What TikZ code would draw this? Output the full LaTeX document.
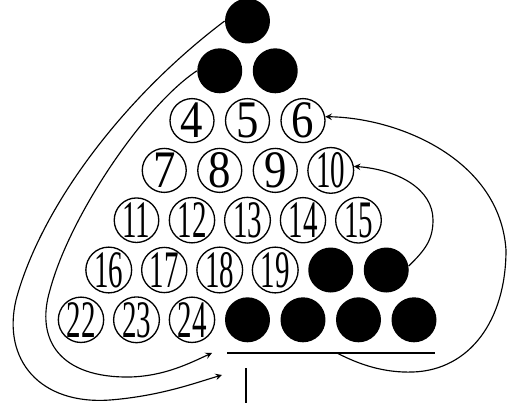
\documentclass[tikz,border=0pt]{standalone}
\usepackage{fontspec}
\setmainfont{Liberation Serif}
\usepackage{graphicx}
\usepackage{tikz}
\tikzset{
  seat/.style={circle, draw, line width=0.75pt, minimum size=0.88cm, inner sep=0pt, font=\fontsize{30}{30}\selectfont},
  ball/.style={circle, fill=black, minimum size=0.9cm, inner sep=0pt},
  jump/.style={->, line width=0.65pt}
}
\newcommand{\seatlabel}[1]{\ifnum#1>9 \scalebox{0.55}[1]{#1}\else \scalebox{0.85}[1]{#1}\fi}

\begin{document}
\begin{tikzpicture}[x=0.02cm, y=-0.02cm, >=stealth]
    \useasboundingbox (0,0) rectangle (507,403);
    % the triangle, row by row
    \foreach \r in {1,...,7}
      \foreach \k in {1,...,\r}{
        \pgfmathtruncatemacro{\n}{\r*(\r-1)/2+\k}
        \pgfmathsetmacro{\xx}{247.5+(\k-(\r+1)/2)*55.5}
        \pgfmathsetmacro{\yy}{21+(\r-1)*49.8}
        \pgfmathtruncatemacro{\full}{(\n<4)||(\n==20)||(\n==21)||(\n>24)}
        \ifnum\full=1
          \node[ball] (p\n) at (\xx,\yy) {};
        \else
          \node[seat] (p\n) at (\xx,\yy) {\seatlabel{\n}};
        \fi
      }
    % base line and stem
    \coordinate (barL) at (227,353);
    \coordinate (barR) at (435,353);
    \coordinate (barM) at (337,353);
    \coordinate (stemT) at (246,368);
    \coordinate (stemB) at (246,403);
    \draw[line width=0.6pt] (barL) -- (barR);
    \draw[line width=0.7pt] (stemT) -- (stemB);
    % free ends of the left arrows
    \coordinate (outA) at (222,375);
    \coordinate (inA) at (212,353);
    \draw[jump] (p1.west) .. controls (120,100) and (40,210) .. (16,300)
        .. controls (2,360) and (40,405) .. (110,400)
        .. controls (160,396) and (195,383) .. (outA);
    \draw[jump] (p2.west) .. controls (145,105) and (70,215) .. (50,290)
        .. controls (35,340) and (60,378) .. (130,377)
        .. controls (165,376) and (190,363) .. (inA);
    % right arrows
    \draw[jump] (p21.10) .. controls (425,250) and (433,240) .. (433,220)
        .. controls (433,190) and (400,170) .. (p10.10);
    \draw[jump] (barM) .. controls (360,365) and (385,373) .. (413,372)
        .. controls (470,370) and (506,320) .. (506,250)
        .. controls (500,160) and (400,118) .. (p6.10);
\end{tikzpicture}
\end{document}
